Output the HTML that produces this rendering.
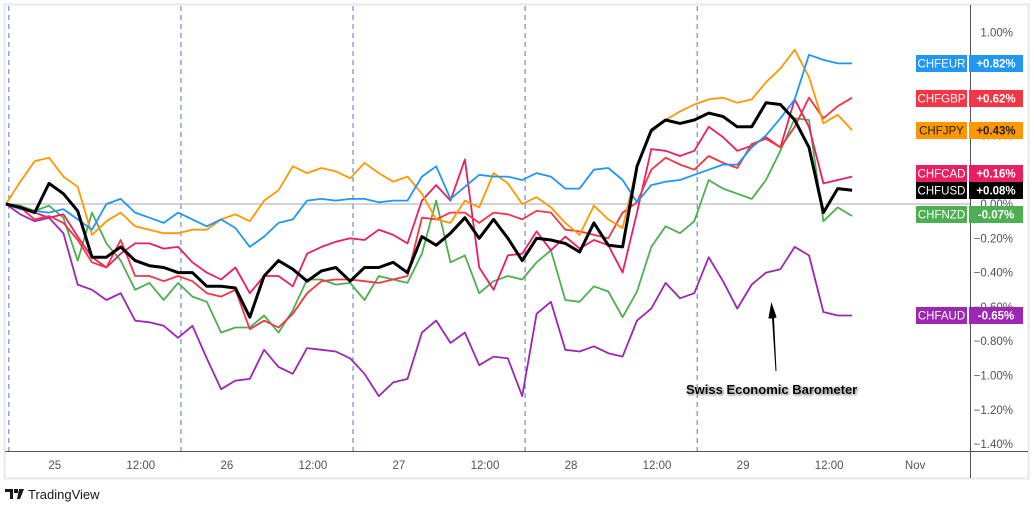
<!DOCTYPE html>
<html><head><meta charset="utf-8"><style>
body{margin:0;background:#fff;font-family:"Liberation Sans",sans-serif;}
#wrap{position:relative;width:1034px;height:511px;overflow:hidden;background:#fff}
</style></head><body>
<div id="wrap">
<svg id="chart" width="1034" height="511" xmlns="http://www.w3.org/2000/svg"></svg>
</div>
<script>
const hours = [0,2,4,6,8,10,12,14,16,18,20,22,24,26,28,30,32,34,36,38,40,42,44,46,48,50,52,54,56,58,60,62,64,66,68,70,72,74,76,78,80,82,84,86,88,90,92,94,96,98,100,102,104,106,108,110,112,114,116,118];
const chfusd = [0,-0.02,-0.05,0.12,0.06,-0.04,-0.31,-0.31,-0.25,-0.33,-0.36,-0.37,-0.40,-0.40,-0.48,-0.48,-0.49,-0.66,-0.42,-0.33,-0.38,-0.45,-0.39,-0.37,-0.45,-0.37,-0.37,-0.34,-0.40,-0.19,-0.24,-0.17,-0.08,-0.20,-0.09,-0.20,-0.33,-0.20,-0.21,-0.23,-0.28,-0.11,-0.24,-0.25,0.22,0.43,0.49,0.47,0.49,0.53,0.51,0.45,0.45,0.59,0.58,0.49,0.33,-0.05,0.09,0.08];
const chfeur = [0,-0.03,-0.04,-0.05,-0.03,-0.09,-0.15,0,0.03,-0.05,-0.08,-0.11,-0.05,-0.09,-0.13,-0.09,-0.14,-0.25,-0.19,-0.11,-0.09,0.02,0.03,0.02,0.03,0.03,0.01,0.02,0.02,0.16,0.22,0.03,0.10,0.17,0.16,0.16,0.14,0.18,0.16,0.09,0.09,0.20,0.21,0.14,0.01,0.11,0.13,0.14,0.17,0.20,0.23,0.23,0.33,0.40,0.50,0.61,0.87,0.84,0.82,0.82];
const chfjpy = [0,0.13,0.25,0.27,0.16,0.10,-0.18,-0.10,-0.05,-0.13,-0.15,-0.17,-0.17,-0.15,-0.15,-0.09,-0.06,-0.10,0.02,0.08,0.22,0.18,0.21,0.19,0.15,0.24,0.18,0.13,0.16,0.06,-0.09,-0.11,0.02,-0.02,0.18,0.12,0,0.04,-0.02,-0.11,-0.18,-0.01,-0.09,-0.14,0.22,0.42,0.49,0.54,0.58,0.61,0.62,0.59,0.61,0.71,0.79,0.90,0.74,0.47,0.52,0.43];
const chfgbp = [0,-0.02,-0.09,-0.07,-0.11,-0.21,-0.34,-0.37,-0.21,-0.42,-0.42,-0.45,-0.42,-0.45,-0.52,-0.54,-0.50,-0.73,-0.68,-0.72,-0.64,-0.52,-0.45,-0.44,-0.44,-0.45,-0.46,-0.44,-0.42,-0.08,-0.09,-0.05,-0.05,-0.11,-0.05,-0.06,-0.09,-0.04,-0.05,-0.15,-0.16,-0.18,-0.20,-0.05,0.01,0.20,0.27,0.23,0.20,0.28,0.24,0.21,0.35,0.38,0.33,0.45,0.62,0.50,0.57,0.62];
const chfcad = [0,-0.03,-0.05,-0.08,-0.06,-0.19,-0.31,-0.37,-0.29,-0.23,-0.23,-0.26,-0.25,-0.34,-0.40,-0.44,-0.37,-0.52,-0.42,-0.42,-0.48,-0.29,-0.25,-0.22,-0.20,-0.21,-0.15,-0.18,-0.23,0.02,0.11,0.02,0.26,-0.37,-0.50,-0.30,-0.29,-0.16,-0.27,-0.19,-0.26,-0.21,-0.24,-0.40,-0.05,0.32,0.31,0.28,0.31,0.45,0.39,0.31,0.34,0.39,0.33,0.61,0.45,0.12,0.14,0.16];
const chfnzd = [0,-0.01,-0.04,-0.01,-0.08,-0.33,-0.05,-0.23,-0.33,-0.50,-0.46,-0.56,-0.46,-0.54,-0.57,-0.75,-0.72,-0.72,-0.65,-0.75,-0.62,-0.44,-0.44,-0.47,-0.46,-0.56,-0.42,-0.44,-0.46,-0.29,0.02,-0.34,-0.30,-0.52,-0.45,-0.42,-0.44,-0.34,-0.27,-0.56,-0.57,-0.48,-0.51,-0.66,-0.51,-0.25,-0.13,-0.17,-0.10,0.14,0.09,0.06,0.03,0.14,0.31,0.50,0.49,-0.10,-0.02,-0.07];
const chfaud = [0,-0.06,-0.10,-0.08,-0.17,-0.47,-0.50,-0.56,-0.52,-0.68,-0.69,-0.71,-0.78,-0.71,-0.90,-1.08,-1.03,-1.02,-0.85,-0.95,-0.99,-0.84,-0.85,-0.86,-0.90,-0.99,-1.12,-1.04,-1.02,-0.75,-0.68,-0.81,-0.75,-0.94,-0.89,-0.90,-1.12,-0.64,-0.57,-0.85,-0.86,-0.83,-0.87,-0.89,-0.68,-0.61,-0.46,-0.55,-0.52,-0.31,-0.45,-0.61,-0.47,-0.40,-0.38,-0.25,-0.30,-0.63,-0.65,-0.65];
const yTicks = [1.00,0.80,0.60,0.40,0.20,0.00,-0.20,-0.40,-0.60,-0.80,-1.00,-1.20,-1.40];
const xLabels = ["25","12:00","26","12:00","27","12:00","28","12:00","29","12:00","Nov"];
const xLabelHours = [6.8,18.8,30.8,42.8,54.8,66.8,78.8,90.8,102.8,114.8,126.8];
const sessionHours = [0.4,24.4,48.4,72.4,96.4];
const names = ["CHFAUD","CHFNZD","CHFCAD","CHFGBP","CHFJPY","CHFEUR","CHFUSD"];
const lastVals = ["-0.65%","-0.07%","+0.16%","+0.62%","+0.43%","+0.82%","+0.08%"];

const NS="http://www.w3.org/2000/svg";
const svg=document.getElementById('chart');
const X=h=>6+h*7.17;
const Y=v=>204-v*171.5;
function mk(t,a,p){const e=document.createElementNS(NS,t);for(const k in a)e.setAttribute(k,a[k]);(p||svg).appendChild(e);return e;}

let fr=mk('rect',{x:4.5,y:4.5,width:1024,height:474,fill:'none',stroke:'#e6e8ee','stroke-width':2});


sessionHours.forEach(h=>{const l=mk('line',{x1:X(h),x2:X(h),y1:6,y2:451,stroke:'#4a78d6','stroke-dasharray':'5,4','stroke-width':1});

});
let z=mk('line',{x1:5,x2:970,y1:Y(0),y2:Y(0),stroke:'#a8a8b0','stroke-width':1});


let ax=mk('line',{x1:970.5,x2:970.5,y1:5,y2:478,stroke:'#50535e','stroke-width':1});


let bx=mk('line',{x1:5,x2:1028,y1:451.5,y2:451.5,stroke:'#50535e','stroke-width':1});


yTicks.forEach(v=>{const t=mk('text',{x:1013,y:Y(v)+4,'text-anchor':'end','font-size':11.5,fill:'#50535e'});
t.textContent=(v<0?'\u2212':'')+Math.abs(v).toFixed(2)+'%';

});
xLabels.forEach((s,i)=>{const t=mk('text',{x:X(xLabelHours[i]),y:469,'text-anchor':'middle','font-size':11.5,fill:'#50535e'});
t.textContent=s;

});

const series=[[chfaud,'#9c27b0',1.8],[chfnzd,'#4caf50',1.8],[chfcad,'#e91e63',1.8],[chfgbp,'#f23645',1.8],[chfjpy,'#ff9800',1.8],[chfeur,'#2196f3',1.8],[chfusd,'#000000',3]];
series.forEach((s,k)=>{const d=s[0].map((v,i)=>(i?'L':'M')+X(hours[i]).toFixed(1)+','+Y(v).toFixed(1)).join('');
const p=mk('path',{d:d,fill:'none',stroke:s[1],'stroke-width':s[2],'stroke-linejoin':'round'});

});

const tagY=[315,214,173,98,130,63,190];
series.forEach((s,k)=>{const g=mk('g',{});


const y=tagY[k];
mk('rect',{x:916,y:y-8,width:51,height:17,fill:s[1]},g);
mk('rect',{x:969,y:y-8,width:54,height:17,fill:s[1]},g);
const c=(k===4)?'#222':'#fff';
const t1=mk('text',{x:941.5,y:y+4.5,'text-anchor':'middle','font-size':11.5,fill:c},g);t1.textContent=names[k];
const t2=mk('text',{x:996,y:y+4.5,'text-anchor':'middle','font-size':11.5,'font-weight':'bold',fill:c},g);t2.textContent=lastVals[k];});

let ar=mk('path',{d:'M776,371 L772.5,318 L769,318 L771.5,304 L776,317 L773.5,318 Z',fill:'#000',stroke:'#000','stroke-width':1});


let an=mk('text',{x:686,y:394,'font-size':13,'font-weight':'bold',fill:'#000',style:'paint-order:stroke;stroke:#fff;stroke-width:0.6;filter:drop-shadow(1px 1px 1px #888)'});
an.textContent='Swiss Economic Barometer';



let lg=mk('g',{});


mk('path',{d:'M5,489h8v10h-3v-7h-5z M14,489h4v4h-4z M19,489h5l-4,10h-3z',fill:'#131722'},lg);
const lt=mk('text',{x:28,y:499,'font-size':13,fill:'#131722'},lg);lt.textContent='TradingView';
</script>
</body></html>
